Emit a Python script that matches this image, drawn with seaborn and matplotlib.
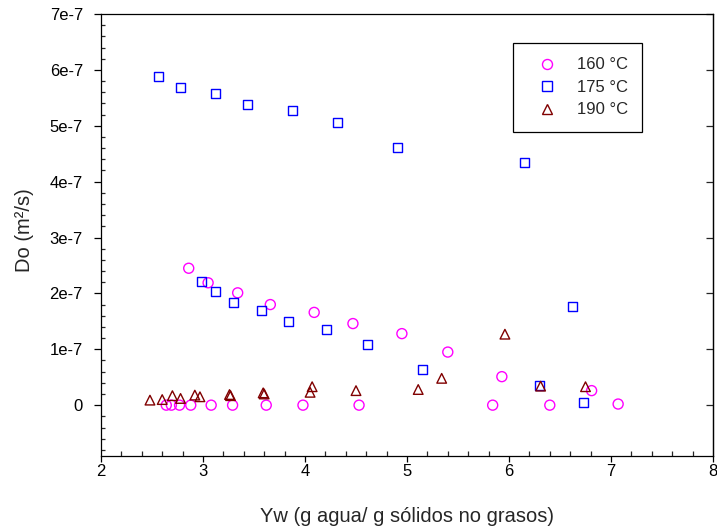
import matplotlib
matplotlib.use("Agg")
import matplotlib.pyplot as plt
import seaborn as sns
import numpy as np
import pandas as pd
from matplotlib.lines import Line2D
from matplotlib.ticker import MultipleLocator, FuncFormatter, FixedLocator

# ---- data (Do in units of 1e-7 m2/s) ----
x160 = [2.86, 3.05, 3.34, 3.66, 4.09, 4.47, 4.95, 5.40, 5.93, 6.81, 7.07,
        2.64, 2.69, 2.77, 2.88, 3.08, 3.29, 3.62, 3.98, 4.53, 5.84, 6.40]
y160 = [2.45, 2.19, 2.01, 1.80, 1.66, 1.46, 1.28, 0.95, 0.51, 0.26, 0.02,
        0, 0, 0, 0, 0, 0, 0, 0, 0, 0, 0]

x175 = [2.56, 2.78, 3.12, 3.44, 3.88, 4.32, 4.91, 6.15,
        2.99, 3.12, 3.30, 3.57, 3.84, 4.21, 4.61, 5.15, 6.30, 6.62, 6.73]
y175 = [5.89, 5.68, 5.57, 5.38, 5.27, 5.05, 4.61, 4.35,
        2.22, 2.04, 1.83, 1.69, 1.50, 1.35, 1.09, 0.63, 0.35, 1.76, 0.04]

x190 = [2.48, 2.60, 2.70, 2.78, 2.92, 2.97, 3.26, 3.27, 3.59, 3.60,
        4.05, 4.07, 4.50, 5.11, 5.34, 5.96, 6.31, 6.75]
y190 = [0.09, 0.10, 0.17, 0.12, 0.18, 0.15, 0.19, 0.17, 0.22, 0.20,
        0.23, 0.33, 0.26, 0.28, 0.48, 1.27, 0.34, 0.33]

labels = ["160 °C", "175 °C", "190 °C"]
yticks = [0, 1, 2, 3, 4, 5, 6, 7]
xticks = [2, 3, 4, 5, 6, 7, 8]

series = [(x160, y160, "o", "#FF00FF", 52),
          (x175, y175, "s", "#0000FF", 42),
          (x190, y190, "^", "#800000", 48)]

sns.set_style("white")
plt.rcParams["font.family"] = ["Liberation Sans", "DejaVu Sans"]

fig = plt.figure(figsize=(7.17, 5.31), dpi=100)
ax = fig.add_axes([101/717, 75/531, 612/717, 442/531])

for (xs, ys, mk, col, s), lab in zip(series, labels):
    df = pd.DataFrame({"Yw": xs, "Do": np.array(ys) * 1e-7})
    sns.scatterplot(data=df, x="Yw", y="Do", marker=mk, s=s, ax=ax,
                    color=col, legend=False, zorder=3)
    coll = ax.collections[-1]
    coll.set_facecolor("none")
    coll.set_edgecolor(col)
    coll.set_linewidth(1.0)

ax.set_xlim(2, 8)
ax.set_ylim(-0.91e-7, 7e-7)

ax.xaxis.set_major_locator(FixedLocator(xticks))
ax.xaxis.set_minor_locator(MultipleLocator(0.2))
ax.yaxis.set_major_locator(FixedLocator([v * 1e-7 for v in yticks]))
ax.yaxis.set_minor_locator(MultipleLocator(0.2e-7))
ax.yaxis.set_major_formatter(FuncFormatter(
    lambda v, p: "0" if abs(v) < 1e-12 else f"{int(round(v / 1e-7))}e-7"))

for sp in ax.spines.values():
    sp.set_linewidth(0.9)
    sp.set_color("black")
    sp.set_visible(True)

ax.tick_params(axis="x", which="major", direction="out", length=4.5, width=0.9,
               labelsize=12, pad=1.5, colors="black")
ax.tick_params(axis="x", which="minor", direction="in", length=3.5, width=0.9)
ax.tick_params(axis="y", which="major", direction="out", length=5, width=0.9,
               labelsize=12, pad=8, colors="black")
ax.tick_params(axis="y", which="minor", direction="in", length=3.2, width=0.9)
ax.tick_params(bottom=True, left=True, top=False, right=False)
ax.tick_params(which="minor", bottom=True, left=True, top=False, right=False)

sec = ax.secondary_yaxis("right")
sec.set_yticks([v * 1e-7 for v in yticks])
sec.tick_params(axis="y", which="major", direction="in", length=4.8, width=0.9,
                labelright=False)
sec.yaxis.set_minor_locator(FixedLocator([]))
sec.spines["right"].set_linewidth(0.9)

ax.set_xlabel("Yw (g agua/ g sólidos no grasos)", fontsize=14.5)
ax.set_ylabel("Do (m²/s)", fontsize=14.5)
ax.xaxis.set_label_coords(0.5, -0.115)
ax.yaxis.set_label_coords(-0.11, 0.51)

handles = [Line2D([], [], marker=mk, ls="none", mfc="none", mec=col,
                  ms=np.sqrt(s), mew=1.0)
           for (xs, ys, mk, col, s) in series]
leg = ax.legend(handles, labels, loc="upper left", bbox_to_anchor=(0.673, 0.934),
                borderaxespad=0, frameon=True, fancybox=False, edgecolor="black",
                fontsize=12, borderpad=0.85, handlelength=2.4, handletextpad=0.6,
                labelspacing=0.45, framealpha=1)
leg.get_frame().set_linewidth(0.9)

fig.savefig("out.png", dpi=100)
